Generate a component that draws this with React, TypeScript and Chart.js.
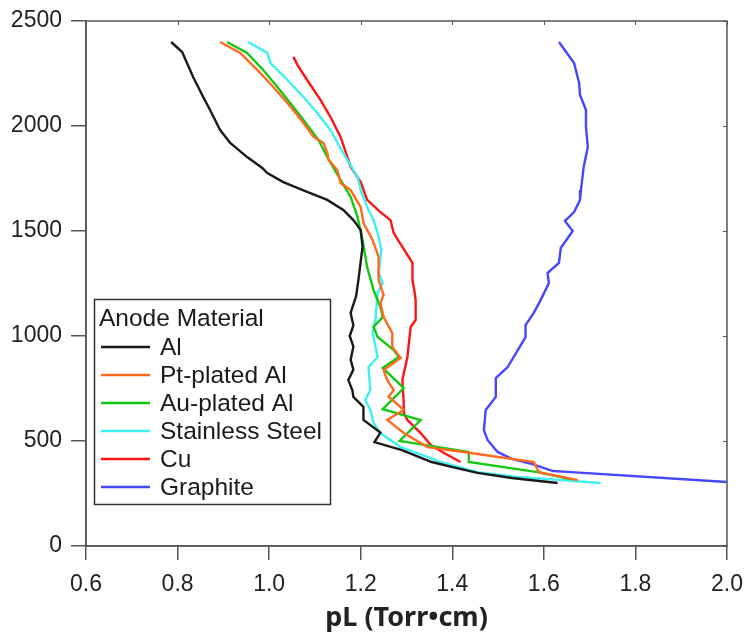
import React, { useEffect, useRef } from "react";
import { Chart, registerables } from "chart.js";

Chart.register(...registerables);

// ---- Data (pL in Torr·cm on x, voltage on y) ----
const seriesLabels = ["Al", "Pt-plated Al", "Au-plated Al", "Stainless Steel", "Cu", "Graphite"];
const seriesColors = ["#1a1a1a", "#ff6a1e", "#14c814", "#3ff0f0", "#ff1414", "#4646ff"];

const alX = [0.786, 0.81, 0.834, 0.856, 0.871, 0.893, 0.915, 0.952, 0.985, 0.996, 1.031, 1.083, 1.127, 1.162, 1.184, 1.2, 1.204, 1.195, 1.19, 1.178, 1.184, 1.176, 1.184, 1.178, 1.184, 1.173, 1.182, 1.184, 1.206, 1.206, 1.243, 1.23, 1.29, 1.355, 1.41, 1.455, 1.53, 1.63];
const alY = [2400, 2352, 2233, 2138, 2076, 1981, 1919, 1852, 1800, 1776, 1733, 1686, 1648, 1600, 1552, 1505, 1424, 1267, 1190, 1110, 1050, 1000, 950, 886, 840, 790, 740, 710, 662, 600, 540, 495, 457, 400, 371, 348, 324, 300];

const ptX = [0.893, 0.937, 0.981, 1.009, 1.04, 1.075, 1.097, 1.119, 1.127, 1.13, 1.149, 1.156, 1.178, 1.2, 1.206, 1.226, 1.239, 1.239, 1.25, 1.243, 1.25, 1.269, 1.269, 1.287, 1.25, 1.258, 1.272, 1.261, 1.294, 1.258, 1.294, 1.346, 1.44, 1.578, 1.589, 1.674];
const ptY = [2400, 2348, 2252, 2186, 2110, 2014, 1948, 1919, 1871, 1838, 1790, 1729, 1695, 1614, 1538, 1457, 1376, 1267, 1195, 1157, 1090, 1014, 948, 895, 838, 790, 743, 710, 648, 600, 538, 471, 443, 400, 352, 314];

const auX = [0.908, 0.952, 0.987, 1.018, 1.046, 1.075, 1.108, 1.127, 1.156, 1.178, 1.193, 1.204, 1.214, 1.228, 1.243, 1.248, 1.228, 1.237, 1.272, 1.283, 1.248, 1.294, 1.248, 1.331, 1.285, 1.436, 1.436, 1.586, 1.66];
const auY = [2400, 2348, 2267, 2186, 2110, 2029, 1933, 1852, 1743, 1662, 1567, 1457, 1329, 1219, 1138, 1090, 1043, 995, 933, 900, 848, 752, 652, 600, 500, 448, 400, 352, 318];

const ssX = [0.954, 0.996, 1.003, 1.04, 1.075, 1.105, 1.134, 1.162, 1.171, 1.193, 1.2, 1.214, 1.228, 1.237, 1.245, 1.239, 1.248, 1.237, 1.232, 1.226, 1.237, 1.217, 1.221, 1.21, 1.221, 1.228, 1.243, 1.287, 1.346, 1.374, 1.455, 1.543, 1.724];
const ssY = [2400, 2348, 2300, 2219, 2138, 2062, 1981, 1871, 1838, 1757, 1695, 1614, 1552, 1490, 1410, 1300, 1252, 1205, 1076, 1014, 900, 852, 743, 695, 648, 586, 538, 471, 424, 400, 352, 329, 300];

const cuX = [1.053, 1.062, 1.083, 1.112, 1.134, 1.156, 1.171, 1.178, 1.2, 1.214, 1.243, 1.265, 1.272, 1.291, 1.313, 1.313, 1.318, 1.32, 1.32, 1.309, 1.302, 1.291, 1.294, 1.294, 1.302, 1.331, 1.353, 1.382, 1.418];
const cuY = [2329, 2290, 2219, 2124, 2043, 1948, 1852, 1805, 1733, 1648, 1590, 1552, 1490, 1424, 1348, 1267, 1205, 1171, 1076, 1043, 900, 790, 681, 633, 600, 538, 481, 443, 400];

const grX = [1.633, 1.666, 1.677, 1.679, 1.692, 1.692, 1.696, 1.687, 1.681, 1.679, 1.666, 1.646, 1.663, 1.637, 1.633, 1.608, 1.611, 1.593, 1.578, 1.56, 1.56, 1.521, 1.495, 1.495, 1.473, 1.469, 1.477, 1.499, 1.53, 1.57, 1.62, 1.66, 2.0];
const grY = [2400, 2300, 2205, 2148, 2076, 1995, 1900, 1805, 1695, 1648, 1590, 1548, 1500, 1419, 1348, 1300, 1252, 1171, 1110, 1052, 995, 852, 800, 710, 648, 552, 505, 448, 415, 393, 357, 352, 305];

const seriesX = [alX, ptX, auX, ssX, cuX, grX];
const seriesY = [alY, ptY, auY, ssY, cuY, grY];

const xMin = 0.6, xMax = 2.0, xStep = 0.2;
const yMin = 0, yMax = 2500, yStep = 500;
const xTitle = "pL (Torr•cm)";
const legendTitle = "Anode Material";

const TICK_FONT = "'Liberation Sans', Arial, sans-serif";

const framePlugin = {
  id: "frame",
  afterDatasetsDraw(chart: any) {
    const { ctx, chartArea } = chart;
    const { left, top, right, bottom } = chartArea;
    ctx.save();
    ctx.strokeStyle = "#555";
    ctx.lineWidth = 1.5;
    ctx.strokeRect(left, top, right - left, bottom - top);
    ctx.lineWidth = 1;
    const xs = chart.scales.x;
    xs.ticks.forEach((t: any) => {
      const px = Math.round(xs.getPixelForValue(t.value)) + 0.5;
      ctx.beginPath();
      ctx.moveTo(px, top);
      ctx.lineTo(px, top + 4);
      ctx.stroke();
    });
    const ys = chart.scales.y;
    ys.ticks.forEach((t: any) => {
      const py = Math.round(ys.getPixelForValue(t.value)) + 0.5;
      ctx.beginPath();
      ctx.moveTo(right, py);
      ctx.lineTo(right - 4, py);
      ctx.stroke();
    });
    ctx.restore();
  },
};

const legendPlugin = {
  id: "boxLegend",
  afterDraw(chart: any) {
    const { ctx } = chart;
    const bx = 94.5, by = 299.5, bw = 236, bh = 205;
    ctx.save();
    ctx.fillStyle = "#fff";
    ctx.fillRect(bx, by, bw, bh);
    ctx.strokeStyle = "#333";
    ctx.lineWidth = 1.5;
    ctx.strokeRect(bx, by, bw, bh);
    ctx.fillStyle = "#1a1a1a";
    ctx.font = `24.5px ${TICK_FONT}`;
    ctx.textBaseline = "middle";
    ctx.textAlign = "left";
    ctx.fillText(legendTitle, 99, 319);
    chart.data.datasets.forEach((ds: any, i: number) => {
      const y = 347 + i * 28;
      ctx.strokeStyle = ds.borderColor;
      ctx.lineWidth = 2.5;
      ctx.beginPath();
      ctx.moveTo(101, y);
      ctx.lineTo(150, y);
      ctx.stroke();
      ctx.fillStyle = "#1a1a1a";
      ctx.fillText(ds.label, 160, y + 1);
    });
    ctx.restore();
  },
};

export default function App() {
  const ref = useRef<HTMLCanvasElement | null>(null);

  useEffect(() => {
    if (!ref.current) return;
    const datasets = seriesLabels.map((label, i) => ({
      label,
      data: seriesX[i].map((x, j) => ({ x, y: seriesY[i][j] })),
      borderColor: seriesColors[i],
      backgroundColor: seriesColors[i],
      borderWidth: 2.4,
      pointRadius: 0,
      showLine: true,
      fill: false,
      tension: 0,
    }));

    const chart = new Chart(ref.current, {
      type: "scatter",
      data: { datasets },
      options: {
        responsive: false,
        animation: false,
        devicePixelRatio: 1,
        layout: { padding: { top: 21, right: 17, bottom: 0, left: 0 } },
        plugins: {
          legend: { display: false },
          tooltip: { enabled: false },
        },
        scales: {
          x: {
            type: "linear",
            min: xMin,
            max: xMax,
            afterFit: (s: any) => {
              s.height = 89;
              s.paddingLeft = 0;
              s.paddingRight = 0;
            },
            ticks: {
              stepSize: xStep,
              padding: 11,
              color: "#222",
              font: { family: TICK_FONT, size: 23 },
              callback: (v: any) => Number(v).toFixed(1),
            },
            grid: {
              display: true,
              drawOnChartArea: false,
              drawTicks: true,
              tickLength: 14,
              color: "#555",
              lineWidth: 1.5,
            },
            border: { display: true, color: "#555", width: 1.5 },
            title: {
              display: true,
              text: xTitle,
              color: "#222",
              font: { family: "'Noto Sans', 'Open Sans', sans-serif", size: 27, weight: "bold" },
              padding: { top: 0, bottom: 0 },
            },
          },
          y: {
            type: "linear",
            min: yMin,
            max: yMax,
            afterFit: (s: any) => {
              s.width = 86;
              s.paddingTop = 0;
              s.paddingBottom = 0;
            },
            ticks: {
              stepSize: yStep,
              padding: 9,
              color: "#222",
              font: { family: TICK_FONT, size: 23 },
              callback: (v: any) => String(Math.round(Number(v))),
            },
            grid: {
              display: true,
              drawOnChartArea: false,
              drawTicks: true,
              tickLength: 15,
              color: "#555",
              lineWidth: 1.5,
            },
            border: { display: true, color: "#555", width: 1.5 },
          },
        },
      },
      plugins: [framePlugin, legendPlugin],
    } as any);

    return () => chart.destroy();
  }, []);

  return (
    <div style={{ position: "fixed", left: 0, top: 0, width: 744, height: 635, background: "#fff" }}>
      <canvas ref={ref} width={744} height={635} style={{ display: "block", width: 744, height: 635 }} />
    </div>
  );
}
